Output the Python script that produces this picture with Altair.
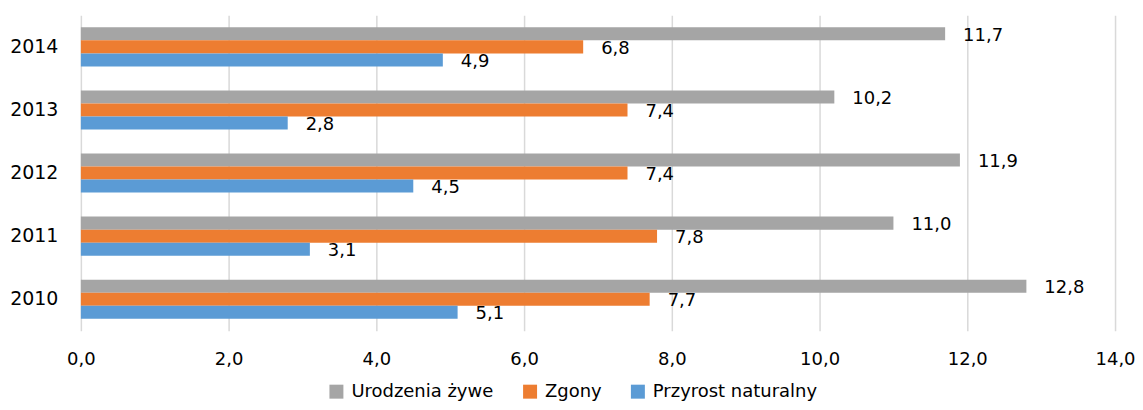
import altair as alt
import pandas as pd

years = ["2014", "2013", "2012", "2011", "2010"]
series = ["Urodzenia żywe", "Zgony", "Przyrost naturalny"]
urodzenia = [11.7, 10.2, 11.9, 11.0, 12.8]
zgony = [6.8, 7.4, 7.4, 7.8, 7.7]
przyrost = [4.9, 2.8, 4.5, 3.1, 5.1]
colors = ["#A5A5A5", "#ED7D31", "#5B9BD5"]

rows = []
for i, y in enumerate(years):
    for s, vals in zip(series, [urodzenia, zgony, przyrost]):
        rows.append({"year": y, "series": s, "value": vals[i]})
df = pd.DataFrame(rows)

FONT = "DejaVu Sans"

base = alt.Chart(df).transform_calculate(
    label="replace(format(datum.value, '.1f'), '.', ',')"
)

y_enc = alt.Y(
    "year:N",
    sort=years,
    title=None,
    scale=alt.Scale(paddingInner=0.38, paddingOuter=0.19),
    axis=alt.Axis(domain=False, ticks=False, grid=False, labelPadding=23,
                  labelFontSize=19, labelFont=FONT, labelColor="#000000"),
)
yoff = alt.YOffset("series:N", sort=series, scale=alt.Scale(paddingInner=0, paddingOuter=0))

bars = base.mark_bar().encode(
    x=alt.X(
        "value:Q",
        title=None,
        scale=alt.Scale(domain=[0, 14], nice=False),
        axis=alt.Axis(values=[0, 2, 4, 6, 8, 10, 12, 14], domain=False, ticks=False,
                      grid=True, gridColor="#D9D9D9", gridWidth=1.5,
                      labelExpr="replace(format(datum.value, '.1f'), '.', ',')",
                      labelFlush=False, labelOverlap=False,
                      labelPadding=20, labelFontSize=18, labelFont=FONT,
                      labelColor="#000000"),
    ),
    y=y_enc,
    yOffset=yoff,
    color=alt.Color(
        "series:N",
        sort=series,
        scale=alt.Scale(domain=series, range=colors),
        legend=alt.Legend(
            title=None, orient="none", direction="horizontal",
            legendX=247, legendY=368,
            symbolType="square", symbolSize=196, symbolStrokeWidth=0,
            labelFont=FONT, labelFontSize=18, labelColor="#000000",
            labelOffset=6, columnPadding=27, padding=0, labelLimit=400,
        ),
    ),
)

labels = base.mark_text(align="left", baseline="middle", dx=18, dy=2,
                        font=FONT, fontSize=18, color="#000000").encode(
    x="value:Q",
    y=alt.Y("year:N", sort=years),
    yOffset=yoff,
    text="label:N",
)

chart = alt.layer(bars, labels).properties(
    width=1036,
    height=316,
    autosize=alt.AutoSizeParams(type="none"),
    padding={"left": 73, "top": 7, "right": 20, "bottom": 71},
).configure_view(stroke=None)

chart.save("out.html", embed_options={"renderer": "svg", "actions": False})
